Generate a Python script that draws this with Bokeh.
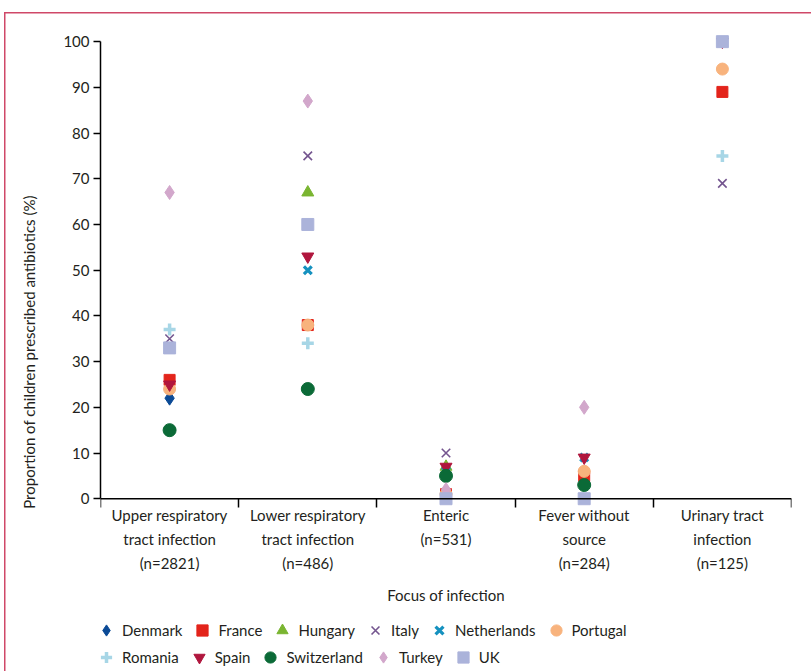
import math
from bokeh.plotting import figure
from bokeh.models import (Range1d, FixedTicker, Span, Legend, LegendItem, ColumnDataSource)
from bokeh.embed import file_html
from bokeh.resources import INLINE

categories = [
    "Upper respiratory\ntract infection\n(n=2821)",
    "Lower respiratory\ntract infection\n(n=486)",
    "Enteric\n(n=531)",
    "Fever without\nsource\n(n=284)",
    "Urinary tract\ninfection\n(n=125)",
]

countries = ["Denmark", "France", "Hungary", "Italy", "Netherlands", "Portugal",
             "Romania", "Spain", "Switzerland", "Turkey", "UK"]

# values per category (None = not shown)
denmark = [22, None, None, None, None]
france = [26, 38, 1, 5, 89]
hungary = [None, 67, 7, None, None]
italy = [35, 75, 10, 3, 69]
netherlands = [15, 50, 6, 9, 100]
portugal = [24, 38, 1, 6, 94]
romania = [37, 34, None, None, 75]
spain = [25, 53, 7, 9, 100]
switzerland = [15, 24, 5, 3, None]
turkey = [67, 87, 2, 20, None]
uk = [33, 60, 0, 0, 100]

series = [denmark, france, hungary, italy, netherlands, portugal,
          romania, spain, switzerland, turkey, uk]

styles = {
    "Denmark": dict(marker="diamond", size=14, fill_color="#0b4a96", line_color="#0b4a96"),
    "France": dict(marker="square", size=11, fill_color="#e3241b", line_color="#e3241b"),
    "Hungary": dict(marker="triangle", size=12, fill_color="#7ab531", line_color="#7ab531"),
    "Italy": dict(marker="x", size=12, line_color="#74558f", line_width=1.6),
    "Netherlands": dict(marker="x", size=11, line_color="#1591bf", line_width=3.2),
    "Portugal": dict(marker="circle", size=12, fill_color="#f8b37d", line_color="#f8b37d"),
    "Romania": dict(marker="cross", size=12, line_color="#a7d6e6", line_width=3.5),
    "Spain": dict(marker="inverted_triangle", size=12, fill_color="#b0163d", line_color="#b0163d"),
    "Switzerland": dict(marker="circle", size=13, fill_color="#0b6a37", line_color="#0b6a37"),
    "Turkey": dict(marker="diamond", size=14, fill_color="#d2a7cb", line_color="#d2a7cb"),
    "UK": dict(marker="square", size=12, fill_color="#abb3da", line_color="#abb3da"),
}

FONT = "Lato"
BORDER = "#cf4868"

p = figure(frame_width=691, frame_height=639, output_backend="svg", toolbar_location=None,
           x_range=Range1d(0, len(categories)), y_range=Range1d(-37.8, 102),
           min_border_left=100, min_border_right=20, min_border_top=32, min_border_bottom=0)
p.outline_line_color = None
p.grid.grid_line_color = None
p.background_fill_color = "white"
p.border_fill_alpha = 0
p.styles = {
    "background-color": "white",
    "background-image": f"linear-gradient({BORDER},{BORDER}), linear-gradient({BORDER},{BORDER})",
    "background-size": "1.5px 100%, 100% 1.5px",
    "background-position": "4px 13px, 4px 12px",
    "background-repeat": "no-repeat",
}

renderers = {}
for name, vals in zip(countries, series):
    xs = [i + 0.5 for i, v in enumerate(vals) if v is not None]
    ys = [v for v in vals if v is not None]
    src = ColumnDataSource(dict(x=xs, y=ys))
    renderers[name] = p.scatter("x", "y", source=src, **styles[name])

# x axis (drawn just under the zero line)
xa = p.xaxis[0]
xa.fixed_location = -2
xa.ticker = FixedTicker(ticks=[i + 0.5 for i in range(len(categories))],
                        minor_ticks=list(range(len(categories) + 1)))
xa.major_label_overrides = {i + 0.5: c for i, c in enumerate(categories)}
xa.axis_line_color = None
xa.major_tick_line_color = None
xa.major_tick_out = 0
xa.major_tick_in = 0
xa.minor_tick_line_color = "black"
xa.minor_tick_line_width = 1.5
xa.minor_tick_in = 9
xa.minor_tick_out = 0
xa.major_label_standoff = -2
xa.major_label_text_font = FONT
xa.major_label_text_font_size = "15px"
xa.major_label_text_color = "#231f20"
xa.major_label_text_line_height = 1.35
xa.axis_label = "Focus of infection"
xa.axis_label_text_font = FONT
xa.axis_label_text_font_size = "15px"
xa.axis_label_text_font_style = "normal"
xa.axis_label_text_color = "#231f20"
xa.axis_label_standoff = 11

p.add_layout(Span(location=0, dimension="width", line_color="black", line_width=1.5))

# y axis
ya = p.yaxis[0]
ya.bounds = (0, 100)
ya.ticker = FixedTicker(ticks=list(range(0, 101, 10)))
ya.minor_tick_line_color = None
ya.major_tick_in = 0
ya.major_tick_out = 7
ya.major_tick_line_width = 1.5
ya.axis_line_width = 1.5
ya.major_label_standoff = 4
ya.major_label_text_font = FONT
ya.major_label_text_font_size = "15px"
ya.major_label_text_color = "#231f20"
ya.axis_label = "Proportion of children prescribed antibiotics (%)"
ya.axis_label_text_font = FONT
ya.axis_label_text_font_size = "15px"
ya.axis_label_text_font_style = "normal"
ya.axis_label_text_color = "#231f20"
ya.axis_label_standoff = 22

def make_legend(names, loc):
    return Legend(items=[LegendItem(label=n, renderers=[renderers[n]]) for n in names],
                  orientation="horizontal", location=loc,
                  label_text_font=FONT, label_text_font_size="15px", label_text_color="#231f20",
                  glyph_width=28, glyph_height=28, label_standoff=2, spacing=6,
                  padding=0, margin=0, border_line_color=None, background_fill_alpha=0)

p.add_layout(make_legend(countries[:6], (-8, 27)))
p.add_layout(make_legend(countries[6:], (-8, 0)))

open("out.html", "w").write(file_html(p, INLINE))
